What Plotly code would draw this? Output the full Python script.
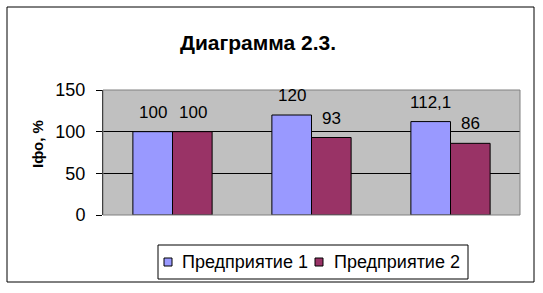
import plotly.graph_objects as go

categories = ["A", "B", "C"]
series1_name = "Предприятие 1"
series2_name = "Предприятие 2"
series1 = [100, 120, 112.1]
series2 = [100, 93, 86]
labels1 = ["100", "120", "112,1"]
labels2 = ["100", "93", "86"]
y_ticks = [0, 50, 100, 150]
color1 = "#9999FF"
color2 = "#993366"

W, H = 543, 293
L, R, T, B = 103, 520, 90, 215
pw, ph = R - L, B - T

def px(x):
    return (x - L) / pw

def py(y):
    return (B - y) / ph

font = "Liberation Sans, Arial, sans-serif"

fig = go.Figure()
fig.add_trace(go.Bar(x=categories, y=series1, name=series1_name, showlegend=False,
                     marker=dict(color=color1, line=dict(color="black", width=1))))
fig.add_trace(go.Bar(x=categories, y=series2, name=series2_name, showlegend=False,
                     marker=dict(color=color2, line=dict(color="black", width=1))))

annotations = []
for i, c in enumerate(categories):
    annotations.append(dict(x=c, y=series1[i], xref="x", yref="y", text=labels1[i],
                            showarrow=False, xshift=-20, yanchor="bottom", yshift=8,
                            font=dict(size=17, color="black", family=font)))
    annotations.append(dict(x=c, y=series2[i], xref="x", yref="y", text=labels2[i],
                            showarrow=False, xshift=20, yanchor="bottom", yshift=8,
                            font=dict(size=17, color="black", family=font)))

annotations.append(dict(x=px(258), y=py(42), xref="paper", yref="paper",
                        text="<b>Диаграмма 2.3.</b>", showarrow=False,
                        xanchor="center", yanchor="middle",
                        font=dict(size=21, color="black", family=font)))
annotations.append(dict(x=px(37), y=py(144), xref="paper", yref="paper",
                        text="<b>Iфо, %</b>", showarrow=False, textangle=-90,
                        xanchor="center", yanchor="middle",
                        font=dict(size=15, color="black", family=font)))

# manual legend
legend_items = [(series1_name, color1, 164, 180), (series2_name, color2, 315, 332)]
shapes = [dict(type="rect", xref="paper", yref="paper",
               x0=px(7), x1=px(534), y0=py(282), y1=py(7),
               line=dict(color="black", width=1), layer="below"),
          dict(type="rect", xref="paper", yref="paper",
               x0=0, x1=1, y0=0, y1=1,
               line=dict(color="#808080", width=1), layer="above"),
          dict(type="rect", xref="paper", yref="paper",
               x0=px(158), x1=px(468), y0=py(279), y1=py(245),
               line=dict(color="black", width=1), fillcolor="white")]
for name, col, mx, tx in legend_items:
    shapes.append(dict(type="rect", xref="paper", yref="paper",
                       x0=px(mx), x1=px(mx + 8), y0=py(266), y1=py(258),
                       line=dict(color="black", width=1), fillcolor=col))
    annotations.append(dict(x=px(tx), y=py(262), xref="paper", yref="paper",
                            text=name, showarrow=False, xanchor="left", yanchor="middle",
                            font=dict(size=18, color="black", family=font)))

fig.update_layout(
    width=W, height=H,
    margin=dict(l=L, r=W - R, t=T, b=H - B, pad=0),
    paper_bgcolor="white",
    plot_bgcolor="#C0C0C0",
    barmode="group",
    bargap=0.43,
    bargroupgap=0,
    showlegend=False,
    annotations=annotations,
    shapes=shapes,
    xaxis=dict(showticklabels=False, showgrid=False, zeroline=False, showline=False,
               ticks=""),
    yaxis=dict(range=[0, 150], tickvals=y_ticks, ticks="outside", ticklen=6,
               tickcolor="black", showgrid=True, gridcolor="black", gridwidth=1,
               zeroline=False, showline=True, linecolor="black",
               ticklabelstandoff=7,
               tickfont=dict(size=18, color="black", family=font)),
)

fig.write_html("out.html")
